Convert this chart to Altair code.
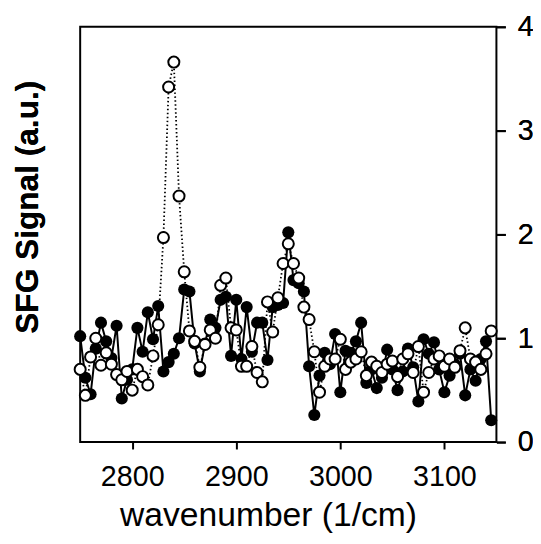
import altair as alt
import pandas as pd

# wavenumber grid (1/cm)
wavenumber = [2750 + 5 * i for i in range(80)]

# filled (black) series
black_vals = [
    1.02, 0.62, 0.46, 0.90, 1.15, 0.97, 0.81, 1.12, 0.42, 0.60,
    0.70, 1.10, 0.87, 1.25, 0.99, 1.31, 0.68, 0.77, 0.85, 1.00,
    1.47, 1.45, 0.95, 0.68, 0.95, 1.18, 1.10, 1.37, 1.40, 0.83,
    1.37, 0.80, 1.30, 0.87, 1.15, 1.15, 0.79, 1.30, 1.32, 1.34,
    2.02, 1.56, 1.53, 1.45, 0.73, 0.26, 0.64, 0.86, 0.75, 1.04,
    0.48, 0.88, 0.86, 0.97, 1.15, 0.57, 0.70, 0.52, 0.62, 0.89,
    0.70, 0.50, 0.68, 0.90, 0.72, 0.39, 0.99, 0.85, 0.96, 0.70,
    0.48, 0.64, 0.75, 0.85, 0.45, 0.70, 0.59, 0.80, 0.97, 0.21,
]

# open (white) series
white_vals = [
    0.70, 0.45, 0.82, 1.00, 0.74, 0.86, 0.75, 0.65, 0.60, 0.68,
    0.50, 0.70, 0.63, 0.55, 0.83, 1.13, 1.97, 3.42, 3.66, 2.37,
    1.64, 1.07, 0.97, 0.72, 0.94, 1.08, 1.00, 1.51, 1.58, 1.10,
    1.08, 0.73, 0.73, 0.92, 0.67, 0.58, 1.35, 1.06, 1.39, 1.72,
    1.91, 1.72, 1.58, 1.30, 1.18, 0.87, 0.48, 0.73, 0.80, 0.80,
    0.99, 0.70, 0.77, 0.80, 0.87, 0.64, 0.77, 0.73, 0.67, 0.75,
    0.78, 0.63, 0.80, 0.85, 0.67, 0.92, 0.48, 0.67, 0.80, 0.83,
    0.73, 0.80, 0.72, 0.88, 1.10, 0.80, 0.77, 0.70, 0.85, 1.07,
]

x_ticks = [2800, 2900, 3000, 3100]
y_ticks = [0, 1, 2, 3, 4]

FONT = "Liberation Sans"

black_df = pd.DataFrame({"wn": wavenumber, "sig": black_vals})
white_df = pd.DataFrame({"wn": wavenumber, "sig": white_vals})

x_enc = alt.X(
    "wn:Q",
    scale=alt.Scale(domain=[2750, 3150], nice=False, zero=False),
    axis=alt.Axis(
        values=x_ticks, title="wavenumber (1/cm)", grid=False, domain=False,
        tickColor="black", tickSize=7, tickWidth=2,
        labelFont=FONT, labelFontSize=29, labelColor="black", labelPadding=14,
        format="d",
        titleFont=FONT, titleFontSize=34, titleFontWeight="normal", titleColor="black",
        titleX=190, titleY=84, titleBaseline="alphabetic",
    ),
)

y_scale = alt.Scale(domain=[0, 4], nice=False)

y_right = alt.Y(
    "sig:Q", scale=y_scale,
    axis=alt.Axis(
        orient="right", values=y_ticks, title=None, grid=False, domain=False,
        tickColor="black", tickSize=9, tickWidth=2,
        labelFont=FONT, labelFontSize=29, labelColor="black", labelPadding=12,
    ),
)

y_left = alt.Y(
    "sig:Q", scale=y_scale,
    axis=alt.Axis(
        orient="left", title="SFG Signal (a.u.)", grid=False, domain=False,
        labels=False, ticks=False,
        titleFont=FONT, titleFontSize=32, titleFontWeight="bold", titleColor="black",
        titleX=-43, titleY=182, titleBaseline="alphabetic", titleAlign="center",
    ),
)

black_line = alt.Chart(black_df).mark_line(color="black", strokeWidth=2).encode(
    x=x_enc, y=y_right
)
white_line = alt.Chart(white_df).mark_line(
    color="black", strokeWidth=1.8, strokeDash=[1.5, 2.5]
).encode(x=x_enc, y=y_left)
black_pts = alt.Chart(black_df).mark_point(
    shape="circle", filled=True, color="black", size=150, opacity=1
).encode(x=x_enc, y=y_right)
white_pts = alt.Chart(white_df).mark_point(
    shape="circle", filled=True, fill="white", stroke="black", strokeWidth=2,
    size=125, opacity=1
).encode(x=x_enc, y=y_left)

chart = (
    alt.layer(black_line, black_pts, white_line, white_pts)
    .resolve_axis(y="independent")
    .properties(
        width=421, height=420, background="white",
        autosize=alt.AutoSizeParams(type="none"),
        padding={"left": 73, "top": 16, "right": 37, "bottom": 92},
    )
    .configure_view(stroke="black", strokeWidth=2)
)

chart.save("out.html", embed_options={"renderer": "svg", "actions": False})
